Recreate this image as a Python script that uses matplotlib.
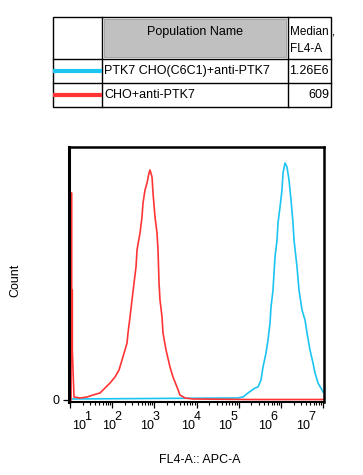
import numpy as np
import matplotlib
matplotlib.use('Agg')
from matplotlib import pyplot as plt
from matplotlib import transforms
from matplotlib.patches import Rectangle
from matplotlib.ticker import LogLocator, NullFormatter

plt.rcParams['font.family'] = ['Liberation Sans', 'DejaVu Sans']

# table contents
pop_names = ['PTK7 CHO(C6C1)+anti-PTK7', 'CHO+anti-PTK7']
medians = ['1.26E6', '609']
colors = ['#1cc4f2', '#ff3535']

# histogram traces: log10(FL4-A) and count
cyan_logx = [1.0, 2.897, 4.794, 4.960, 5.102, 5.221, 5.387, 5.458, 5.529, 5.577,
             5.648, 5.695, 5.743, 5.766, 5.814, 5.838, 5.861, 5.909, 5.932, 5.980,
             6.027, 6.051, 6.098, 6.146, 6.193, 6.241, 6.288, 6.312, 6.383, 6.430,
             6.502, 6.573, 6.620, 6.691, 6.762, 6.810, 6.881, 6.976, 7.0]
cyan_count = [1, 1.5, 2, 2, 3, 7, 12, 13, 20, 33,
              47, 60, 77, 93, 110, 127, 143, 160, 177, 193,
              210, 227, 237, 233, 220, 200, 177, 160, 133, 110,
              90, 80, 67, 50, 37, 27, 17, 10, 8]

red_logx = [1.025, 1.025, 1.040, 1.040, 1.055, 1.055, 1.075, 1.095, 1.237, 1.403,
            1.545, 1.711, 1.830, 1.949, 2.067, 2.162, 2.233, 2.304, 2.352, 2.375,
            2.423, 2.470, 2.518, 2.565, 2.589, 2.660, 2.707, 2.731, 2.779, 2.826,
            2.873, 2.897, 2.945, 2.968, 3.016, 3.063, 3.087, 3.111, 3.134, 3.182,
            3.205, 3.277, 3.371, 3.442, 3.537, 3.608, 3.727, 3.917, 5.268, 7.023]
red_count = [0, 207, 207, 110, 110, 50, 25, 3, 2, 3,
             5, 7, 12, 17, 23, 30, 40, 50, 57, 67,
             83, 100, 117, 133, 150, 167, 183, 197, 210, 217,
             227, 230, 223, 207, 183, 167, 150, 117, 100, 83,
             67, 50, 33, 23, 13, 5, 2, 1, 0.5, 0.5]

decades = [1, 2, 3, 4, 5, 6, 7]
# where FlowJo printed the decade labels (log10 units, shifted from the ticks)
label_logx = [1.213, 1.925, 2.826, 3.798, 4.676, 5.624, 6.525]

fig = plt.figure(figsize=(3.63, 4.75), dpi=100)

# ---- histogram
ax = fig.add_axes([69 / 363, 1 - 402 / 475, 255 / 363, 255 / 475])
ax.plot(10 ** np.array(cyan_logx), cyan_count, color=colors[0], lw=1.2)
ax.plot(10 ** np.array(red_logx), red_count, color=colors[1], lw=1.2)
ax.set_xscale('log')
ax.set_xlim(10 ** 0.976, 10 ** 7.023)
ax.set_ylim(-2, 253)

ax.set_xticks([10 ** d for d in decades])
ax.xaxis.set_minor_locator(LogLocator(base=10, subs=np.arange(2, 10), numticks=20))
ax.xaxis.set_major_formatter(NullFormatter())
ax.xaxis.set_minor_formatter(NullFormatter())
ax.tick_params(axis='x', which='major', length=4.5, width=0.9, direction='out')
ax.tick_params(axis='x', which='minor', length=2.5, width=0.8, direction='out')
ax.set_yticks([0])
ax.set_yticklabels(['0'], fontsize=9)
ax.tick_params(axis='y', length=4.5, width=0.9, pad=2)

for side, w in [('left', 2.2), ('top', 1.8), ('right', 1.8), ('bottom', 1.5)]:
    ax.spines[side].set_linewidth(w)

base_tr = ax.get_xaxis_transform()
sup_tr = transforms.offset_copy(base_tr, fig=fig, x=9, y=9, units='dots')
for d, lx in zip(decades, label_logx):
    ax.text(10 ** lx, -0.096, '10', transform=base_tr, ha='center', va='center',
            fontsize=9)
    ax.text(10 ** lx, -0.096, str(d), transform=sup_tr, ha='center', va='center',
            fontsize=9)

fig.text(200 / 363, 1 - 460 / 475, 'FL4-A:: APC-A', ha='center', va='center', fontsize=9)
fig.text(15 / 363, 1 - 280 / 475, 'Count', ha='center', va='center', rotation=90,
         fontsize=9)

# ---- table above the plot (pixel coordinates)
tab = fig.add_axes([0, 0, 1, 1])
tab.set_xlim(0, 363)
tab.set_ylim(475, 0)
tab.axis('off')
tab.patch.set_alpha(0)

tab.add_patch(Rectangle((104, 19), 182, 38, facecolor='#c0c0c0',
                        edgecolor='#9a9a9a', lw=0.6))
tab.add_patch(Rectangle((53, 17), 278, 90, fill=False, edgecolor='black', lw=1))
for xv in [102, 288]:
    tab.plot([xv, xv], [17, 107], color='black', lw=1)
for yv in [59, 83]:
    tab.plot([53, 331], [yv, yv], color='black', lw=1)

tab.text(195, 32, 'Population Name', ha='center', va='center', fontsize=9)
tab.text(290, 31, 'Median ,', ha='left', va='center', fontsize=8.5)
tab.text(290, 49, 'FL4-A', ha='left', va='center', fontsize=8.5)

row_y = [71, 95]
for name, med, c, yv in zip(pop_names, medians, colors, row_y):
    tab.plot([53, 102], [yv, yv], color=c, lw=3, solid_capstyle='butt')
    tab.text(104, yv, name, ha='left', va='center', fontsize=9)
    tab.text(329, yv, med, ha='right', va='center', fontsize=9)

plt.savefig('out.png', dpi=100)
